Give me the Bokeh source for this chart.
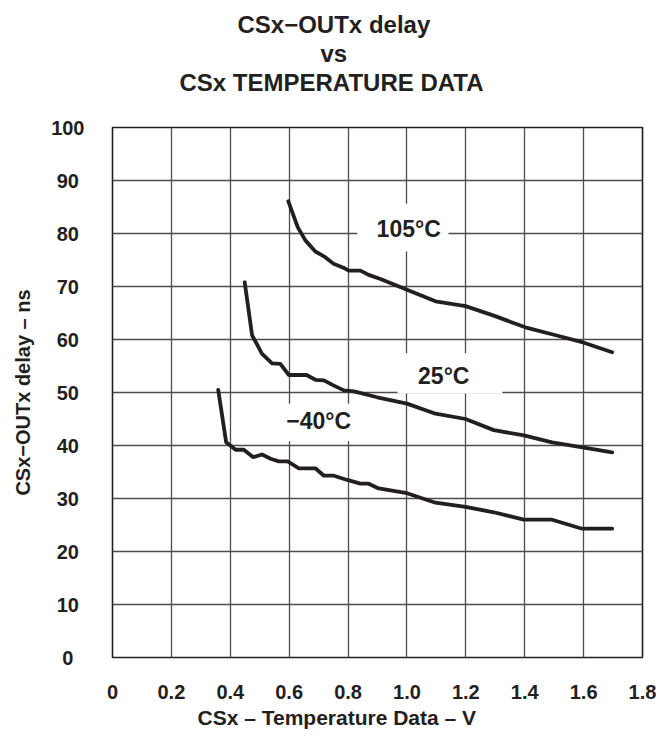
from bokeh.plotting import figure
from bokeh.models import FixedTicker, Title, Label, BoxAnnotation, Range1d, CustomJSTickFormatter
from bokeh.embed import file_html
from bokeh.resources import INLINE

# ---- data ----
x_ticks = [0, 0.2, 0.4, 0.6, 0.8, 1.0, 1.2, 1.4, 1.6, 1.8]
y_ticks = [0, 10, 20, 30, 40, 50, 60, 70, 80, 90, 100]

t105_x = [0.597, 0.629, 0.655, 0.689, 0.718, 0.751, 0.786, 0.802, 0.842, 0.870, 0.910,
          1.0, 1.097, 1.199, 1.295, 1.402, 1.499, 1.601, 1.697]
t105_y = [86.1, 81.2, 78.7, 76.6, 75.7, 74.3, 73.5, 73.0, 73.0, 72.2, 71.4,
          69.4, 67.2, 66.3, 64.5, 62.3, 60.9, 59.4, 57.6]

t25_x = [0.449, 0.474, 0.508, 0.542, 0.570, 0.599, 0.659, 0.689, 0.718, 0.752, 0.786,
         0.820, 0.899, 1.0, 1.097, 1.199, 1.295, 1.397, 1.493, 1.601, 1.697]
t25_y = [70.8, 60.8, 57.3, 55.5, 55.4, 53.3, 53.3, 52.4, 52.3, 51.3, 50.4,
         50.2, 49.1, 47.9, 46.0, 45.0, 42.9, 41.9, 40.6, 39.6, 38.7]

tm40_x = [0.359, 0.386, 0.418, 0.446, 0.478, 0.508, 0.537, 0.565, 0.595, 0.633, 0.689,
          0.718, 0.752, 0.797, 0.842, 0.870, 0.904, 1.0, 1.097, 1.199, 1.295, 1.397,
          1.493, 1.595, 1.697]
tm40_y = [50.5, 40.6, 39.2, 39.2, 37.8, 38.3, 37.5, 37.0, 37.0, 35.7, 35.7,
          34.3, 34.3, 33.5, 32.8, 32.8, 31.9, 31.0, 29.2, 28.4, 27.4, 26.0,
          26.0, 24.3, 24.3]

curve_labels = ["105°C", "25°C", "−40°C"]
label_x = [1.006, 1.125, 0.700]
label_y = [80.9, 53.2, 44.6]

title_lines = ["CSx−OUTx delay", "vs", "CSx TEMPERATURE DATA"]
x_title = "CSx – Temperature Data – V"
y_title = "CSx−OUTx delay – ns"

# ---- styling ----
FONT = "Liberation Sans"
INK = "#231f20"

p = figure(width=656, height=738, output_backend="svg", toolbar_location=None,
           title_location=None,
           x_range=Range1d(0, 1.8), y_range=Range1d(0, 100),
           min_border_left=112, min_border_right=14, min_border_top=127,
           min_border_bottom=81)

p.background_fill_color = "white"
p.border_fill_color = "white"
p.outline_line_color = INK
p.outline_line_width = 1.6

for ax, ticks in ((p.xaxis, x_ticks), (p.yaxis, y_ticks)):
    ax.ticker = FixedTicker(ticks=ticks)
    ax.axis_line_color = None
    ax.major_tick_line_color = None
    ax.minor_tick_line_color = None
    ax.major_tick_in = 0
    ax.major_tick_out = 0
    ax.major_label_text_font = FONT
    ax.major_label_text_font_style = "bold"
    ax.major_label_text_font_size = "20px"
    ax.major_label_text_color = INK
    ax.axis_label_text_font = FONT
    ax.axis_label_text_font_style = "bold"
    ax.axis_label_text_font_size = "20px"
    ax.axis_label_text_color = INK

p.xaxis.formatter = CustomJSTickFormatter(code="return tick == 0 ? '0' : tick.toFixed(1);")
p.xaxis.major_label_standoff = 27
# y labels are centred in the reference: pad the shorter ones with no-break spaces
p.yaxis.formatter = CustomJSTickFormatter(
    code="if (tick >= 100) return String(tick); if (tick < 10) return tick + '\\u00a0\\u00a0'; return tick + '\\u00a0';")
p.yaxis.major_label_standoff = 28
p.yaxis.axis_label = y_title
p.yaxis.axis_label_standoff = 14

for g in (p.xgrid, p.ygrid):
    g.grid_line_color = "#4d4d4d"
    g.grid_line_width = 1.3

# white boxes behind the curve labels
p.add_layout(BoxAnnotation(left=0.831, right=1.141, bottom=76.6, top=85.6,
                           fill_color="white", fill_alpha=1, line_color=None))
p.add_layout(BoxAnnotation(left=0.968, right=1.324, bottom=49.8, top=57.4,
                           fill_color="white", fill_alpha=1, line_color=None))
p.add_layout(BoxAnnotation(left=0.58, right=0.822, bottom=40.8, top=47.9,
                           fill_color="white", fill_alpha=1, line_color=None))

for xs, ys in ((t105_x, t105_y), (t25_x, t25_y), (tm40_x, tm40_y)):
    p.line(xs, ys, line_color=INK, line_width=3.8, line_join="round", line_cap="round")

for txt, lx, ly in zip(curve_labels, label_x, label_y):
    p.add_layout(Label(x=lx, y=ly, text=txt, text_align="center", text_baseline="middle",
                       text_font=FONT, text_font_style="bold", text_font_size="23px",
                       text_color=INK))

# gap between the frame and the title block
p.add_layout(Title(text=" ", standoff=29, text_font_size="1px"), "above")

# three centred title lines (added innermost first)
title_offsets = [67, 208, 125]
for txt, off in zip(reversed(title_lines), title_offsets):
    p.add_layout(Title(text=txt, align="left", offset=off, standoff=0,
                       text_font=FONT, text_font_style="bold", text_font_size="24px",
                       text_color=INK), "above")

# x-axis title (centred on the page, as in the reference)
p.add_layout(Title(text=x_title, align="left", offset=85, standoff=5, vertical_align="bottom",
                   text_font=FONT, text_font_style="bold", text_font_size="21px",
                   text_color=INK), "below")

open("out.html", "w").write(file_html(p, INLINE))
